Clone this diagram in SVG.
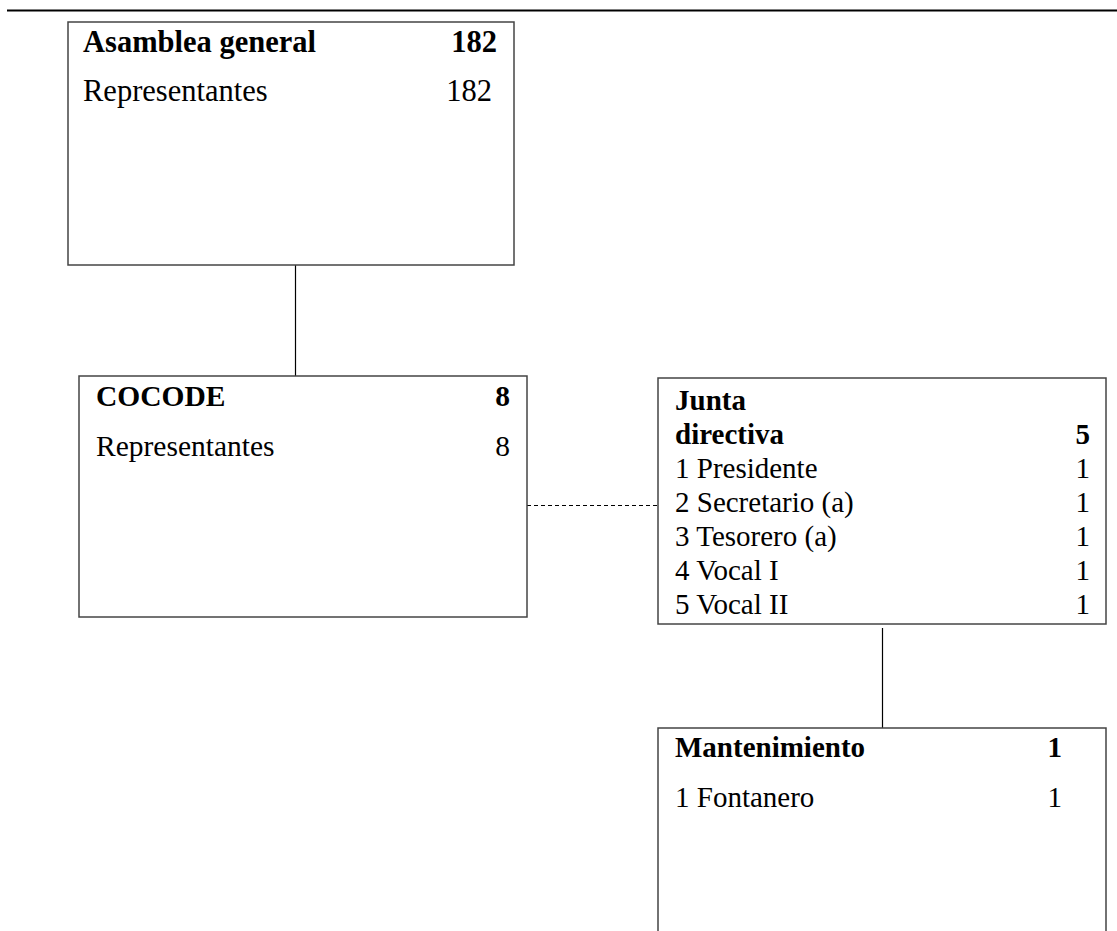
<svg xmlns="http://www.w3.org/2000/svg" width="1117" height="931" viewBox="0 0 1117 931">
<style>
.box{fill:#fff;stroke:#444;stroke-width:1.5}
.t{font-family:"Liberation Serif","Times New Roman",serif;font-size:29px;fill:#000}
.big{font-size:30.5px}
.mid{font-size:29.5px}
.b{font-weight:bold}
.r{text-anchor:end}
.ln{stroke:#000;stroke-width:1.2;fill:none}
.dash{stroke:#000;stroke-width:1.2;stroke-dasharray:4 3;fill:none}
</style>
<rect width="1117" height="931" fill="#fff"/>
<line x1="7" y1="10.5" x2="1117" y2="10.5" stroke="#000" stroke-width="2"/>
<g id="connectors">
<line class="ln" x1="295.5" y1="265" x2="295.5" y2="376"/>
<line class="dash" x1="527" y1="505.5" x2="658" y2="505.5"/>
<line class="ln" x1="882.5" y1="628" x2="882.5" y2="728"/>
</g>
<g id="asamblea">
<rect class="box" x="68" y="22" width="446" height="243"/>
<text class="t big b" x="83" y="52">Asamblea general</text>
<text class="t big b r" x="497" y="52">182</text>
<text class="t big" x="83" y="101">Representantes</text>
<text class="t big r" x="492" y="101">182</text>
</g>
<g id="cocode">
<rect class="box" x="79" y="376" width="448" height="241"/>
<text class="t mid b" x="96" y="406">COCODE</text>
<text class="t mid b r" x="510" y="406">8</text>
<text class="t mid" x="96" y="456">Representantes</text>
<text class="t mid r" x="510" y="456">8</text>
</g>
<g id="junta">
<rect class="box" x="658" y="378" width="448" height="246"/>
<text class="t b" x="675" y="410">Junta</text>
<text class="t b" x="675" y="444">directiva</text>
<text class="t b r" x="1090" y="444">5</text>
<text class="t" x="675" y="478">1 Presidente</text>
<text class="t r" x="1090" y="478">1</text>
<text class="t" x="675" y="512">2 Secretario (a)</text>
<text class="t r" x="1090" y="512">1</text>
<text class="t" x="675" y="546">3 Tesorero (a)</text>
<text class="t r" x="1090" y="546">1</text>
<text class="t" x="675" y="580">4 Vocal I</text>
<text class="t r" x="1090" y="580">1</text>
<text class="t" x="675" y="614">5 Vocal II</text>
<text class="t r" x="1090" y="614">1</text>
</g>
<g id="mantenimiento">
<path class="box" d="M658,940 V728 H1106 V940"/>
<text class="t b" x="675" y="757">Mantenimiento</text>
<text class="t b r" x="1062" y="757">1</text>
<text class="t" x="675" y="807">1 Fontanero</text>
<text class="t r" x="1062" y="807">1</text>
</g>
</svg>
